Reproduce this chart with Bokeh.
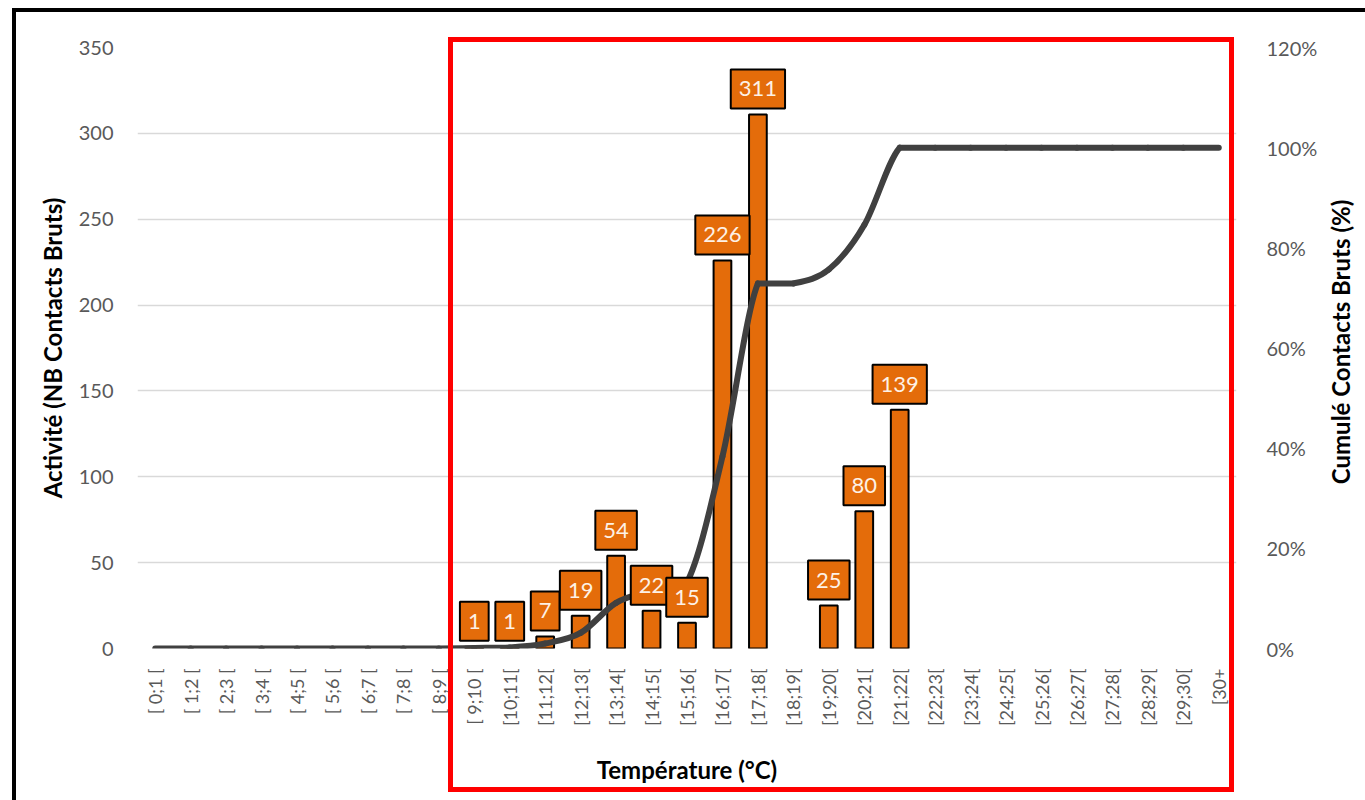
import numpy as np
from bokeh.plotting import figure
from bokeh.models import (FactorRange, Range1d, LinearAxis, Label, Div,
                          NumeralTickFormatter, FixedTicker, InlineStyleSheet)
from bokeh.embed import file_html
from bokeh.resources import INLINE

# Temperature classes (°C)
categories = ["[ 0;1 [", "[ 1;2 [", "[ 2;3 [", "[ 3;4 [", "[ 4;5 [", "[ 5;6 [",
              "[ 6;7 [", "[ 7;8 [", "[ 8;9 [", "[ 9;10 [", "[10;11[", "[11;12[",
              "[12;13[", "[13;14[", "[14;15[", "[15;16[", "[16;17[", "[17;18[",
              "[18;19[", "[19;20[", "[20;21[", "[21;22[", "[22;23[", "[23;24[",
              "[24;25[", "[25;26[", "[26;27[", "[27;28[", "[28;29[", "[29;30[", "[30+"]

# Raw contacts per temperature class
contacts = [0, 0, 0, 0, 0, 0, 0, 0, 0,
            1, 1, 7, 19, 54, 22, 15, 226, 311, 0, 25, 80, 139,
            0, 0, 0, 0, 0, 0, 0, 0, 0]

left_ticks = [0, 50, 100, 150, 200, 250, 300, 350]
right_ticks = [0.0, 0.2, 0.4, 0.6, 0.8, 1.0, 1.2]

ORANGE = "#E46C0A"
LINE = "#404040"
FONT = "Lato"
RIGHT_TITLE = "Cumulé Contacts Bruts (%)"

cumulative = np.cumsum(contacts) / np.sum(contacts)

# outer chart frame and the highlighted 9-30 °C block, drawn over the canvas
frame_css = InlineStyleSheet(css="""
:host { position: relative; }
:host::before {
  content: ""; position: absolute; left: 12px; top: 8px;
  width: calc(100% - 12px); height: calc(100% - 8px);
  border-left: 4px solid #000; border-top: 4px solid #000;
  box-sizing: border-box; pointer-events: none; z-index: 10;
}
:host::after {
  content: ""; position: absolute; left: 448px; top: 37px;
  width: 786px; height: 755px; border: 5px solid #FF0000;
  box-sizing: border-box; pointer-events: none; z-index: 10;
}
""")

p = figure(width=1365, height=800,
           x_range=FactorRange(factors=categories, range_padding=0),
           y_range=Range1d(0, 350),
           output_backend="svg", toolbar_location=None,
           min_border_left=137, min_border_right=129,
           min_border_top=47, min_border_bottom=152)
p.stylesheets = [frame_css]
p.outline_line_color = None
p.background_fill_color = "white"
p.border_fill_color = "white"
p.xgrid.grid_line_color = None
p.ygrid.grid_line_color = "#d9d9d9"
p.ygrid.grid_line_width = 1.5
p.ygrid.ticker = FixedTicker(ticks=left_ticks)

p.extra_y_ranges = {"pct": Range1d(0, 1.2)}

# left axis
ya = p.yaxis[0]
ya.ticker = FixedTicker(ticks=left_ticks)
ya.axis_line_color = None
ya.major_tick_line_color = None
ya.minor_tick_line_color = None
ya.major_label_text_font = FONT
ya.major_label_text_font_size = "20px"
ya.major_label_text_color = "#595959"
ya.major_label_standoff = 18
ya.axis_label = "Activité (NB Contacts Bruts)"
ya.axis_label_text_font = FONT
ya.axis_label_text_font_style = "bold"
ya.axis_label_text_font_size = "24px"
ya.axis_label_text_color = "black"
ya.axis_label_standoff = 9

# right axis
ra = LinearAxis(y_range_name="pct", ticker=FixedTicker(ticks=right_ticks),
                formatter=NumeralTickFormatter(format="0%"))
ra.axis_line_color = None
ra.major_tick_line_color = None
ra.minor_tick_line_color = None
ra.major_label_text_font = FONT
ra.major_label_text_font_size = "20px"
ra.major_label_text_color = "#595959"
ra.major_label_standoff = 24
p.add_layout(ra, "right")

# right-hand title, rotated to read bottom-to-top
right_title = Div(text=RIGHT_TITLE, styles={
    "position": "absolute", "left": "1341px", "top": "342px",
    "transform": "translate(-50%, -50%) rotate(-90deg)",
    "font-family": FONT, "font-weight": "bold", "font-size": "24px",
    "color": "black", "white-space": "nowrap", "z-index": "5",
})
try:
    p.elements = [right_title]
except AttributeError:
    ra.axis_label = RIGHT_TITLE
    ra.axis_label_orientation = "vertical"
    ra.axis_label_text_font = FONT
    ra.axis_label_text_font_style = "bold"
    ra.axis_label_text_font_size = "24px"
    ra.axis_label_text_color = "black"
    ra.axis_label_standoff = 12

# bottom axis
xa = p.xaxis[0]
xa.axis_line_color = None
xa.major_tick_line_color = None
xa.minor_tick_line_color = None
xa.major_label_orientation = np.pi / 2
xa.major_label_text_font = FONT
xa.major_label_text_font_size = "18px"
xa.major_label_text_color = "#595959"
xa.major_label_standoff = 14
xa.axis_label = "Température (°C)"
xa.axis_label_text_font = FONT
xa.axis_label_text_font_style = "bold"
xa.axis_label_text_font_size = "24px"
xa.axis_label_text_color = "black"
xa.axis_label_standoff = 26

# bars (empty classes are not drawn)
bar_x = [c for c, v in zip(categories, contacts) if v > 0]
bar_top = [v for v in contacts if v > 0]
p.vbar(x=bar_x, top=bar_top, width=0.5, fill_color=ORANGE,
       line_color="black", line_width=2)

# smoothed cumulative curve: cubic Bezier segments through each class centre
xs = np.arange(len(categories)) + 0.5
ys = cumulative
n = len(xs)
x0, y0, x1, y1, cx0, cy0, cx1, cy1 = [], [], [], [], [], [], [], []
for i in range(n - 1):
    pa = (xs[max(i - 1, 0)], ys[max(i - 1, 0)])
    pb = (xs[i], ys[i])
    pc = (xs[i + 1], ys[i + 1])
    pd = (xs[min(i + 2, n - 1)], ys[min(i + 2, n - 1)])
    lo, hi = min(pb[1], pc[1]), max(pb[1], pc[1])
    x0.append(pb[0]); y0.append(pb[1])
    x1.append(pc[0]); y1.append(pc[1])
    cx0.append(pb[0] + (pc[0] - pa[0]) / 6)
    cy0.append(min(max(pb[1] + (pc[1] - pa[1]) / 6, lo), hi))
    cx1.append(pc[0] - (pd[0] - pb[0]) / 6)
    cy1.append(min(max(pc[1] - (pd[1] - pb[1]) / 6, lo), hi))

p.bezier(x0=x0, y0=y0, x1=x1, y1=y1, cx0=cx0, cy0=cy0, cx1=cx1, cy1=cy1,
         y_range_name="pct", line_color=LINE, line_width=6, line_cap="round")

# value labels above each bar
for i, v in enumerate(contacts):
    if v <= 0:
        continue
    p.add_layout(Label(x=i + 0.5, y=v, y_offset=6, text=str(v),
                       text_align="center", text_baseline="bottom",
                       text_font=FONT, text_font_size="22px", text_color="#FDF1E6",
                       background_fill_color=ORANGE, border_line_color="black",
                       border_line_width=2,
                       padding=dict(left=8, right=8, top=12, bottom=12)))

open("out.html", "w").write(file_html(p, INLINE))
